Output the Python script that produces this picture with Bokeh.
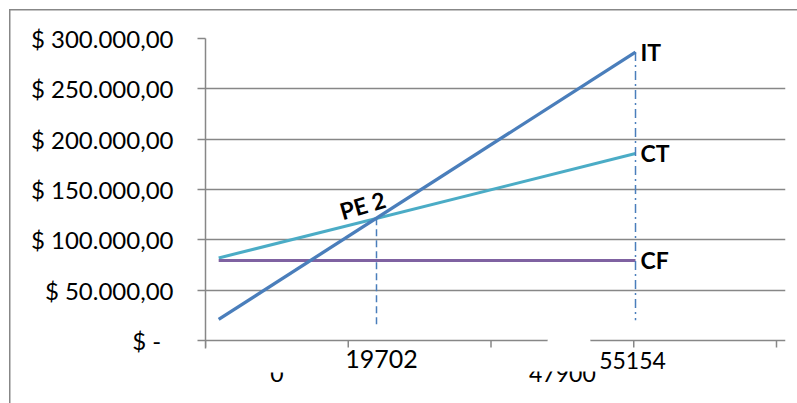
from bokeh.plotting import figure
from bokeh.models import Range1d, FixedTicker, BoxAnnotation, Label
from bokeh.embed import file_html
from bokeh.resources import INLINE
from bokeh.core.properties import value
import numpy as np

# ---------------- data ----------------
quantity = [-1900, 55154]          # x of line start / end (units)
it_values = [21000, 286500]        # ingreso total
ct_values = [82000, 185800]        # costo total
cf_values = [79500, 79500]         # costo fijo
series_names = ["IT", "CT", "CF"]

guide_q = [19702, 55154]           # vertical guide positions
guide_top = [121500, 286500]
guide_bottom = [13000, 20000]
guide_labels = ["19702", "55154"]
pe_label = "PE 2"

y_ticks = [0, 50000, 100000, 150000, 200000, 250000, 300000]
y_tick_labels = ["$ -\u00a0\u00a0", "$ 50.000,00", "$ 100.000,00", "$ 150.000,00",
                 "$ 200.000,00", "$ 250.000,00", "$ 300.000,00"]
x_categories = ["0", "23950", "47900", ""]

# ---------------- styles / layout ----------------
FONT = "Lato"
GRAY = "#878787"
C_IT = "#4a7ebb"
C_CT = "#4bacc6"
C_CF = "#7f62a1"

W, H = 797, 403
LEFT, TOP, RIGHT = 205, 38, 785        # frame edges (px)
AXIS_END = 776                         # right end of the category axis (px)
Y0_PX = 340                            # pixel row of value 0
X0, X1 = -3704, 74453                  # axis extent in units
x_per_px = (X1 - X0) / (AXIS_END - LEFT)
y_per_px = 300000 / (Y0_PX - TOP)
XR = X1 + (RIGHT - AXIS_END) * x_per_px
YB = -(H - Y0_PX) * y_per_px

p = figure(width=W, height=H, output_backend="svg", toolbar_location=None,
           x_range=Range1d(X0, XR), y_range=Range1d(YB, 300000),
           x_axis_location=None,
           min_border_left=LEFT, min_border_right=W - RIGHT, min_border_top=TOP,
           min_border_bottom=0)
p.outline_line_color = None
p.background_fill_color = "white"
p.border_fill_color = None
p.styles = {
    "background": (f"linear-gradient({GRAY},{GRAY}) 9px 9px / 1.5px 100% no-repeat, "
                   f"linear-gradient({GRAY},{GRAY}) 9px 9px / 100% 1.5px no-repeat, white")
}

# y axis
p.yaxis.ticker = FixedTicker(ticks=y_ticks)
p.yaxis.major_label_overrides = dict(zip(y_ticks, y_tick_labels))
p.yaxis.major_label_text_font = FONT
p.yaxis.major_label_text_font_size = "24px"
p.yaxis.major_label_text_color = "black"
p.yaxis.major_tick_out = 8
p.yaxis.major_tick_in = 0
p.yaxis.major_label_standoff = 24
p.yaxis.axis_line_color = GRAY
p.yaxis.axis_line_width = 1.5
p.yaxis.major_tick_line_color = GRAY
p.yaxis.major_tick_line_width = 1.5
p.yaxis.bounds = (-8 * y_per_px, 300000)
p.ygrid.ticker = FixedTicker(ticks=y_ticks)
p.ygrid.grid_line_color = GRAY
p.ygrid.grid_line_width = 1.5
p.ygrid.bounds = (X0, X1)
p.xgrid.visible = False

# category axis ticks and labels (drawn inside the frame)
bounds = np.linspace(X0, X1, len(x_categories) + 1)
centers = (bounds[:-1] + bounds[1:]) / 2
p.segment(x0=bounds, y0=[0] * len(bounds), x1=bounds, y1=[-7 * y_per_px] * len(bounds),
          line_color=GRAY, line_width=1.5)
p.text(x=centers, y=[0] * len(centers), text=x_categories, y_offset=33,
       text_align="center", text_baseline="alphabetic", text_font=value(FONT),
       text_font_size="23px", text_color="black")

# lines
p.line(quantity, ct_values, line_color=C_CT, line_width=3)
p.line(quantity, cf_values, line_color=C_CF, line_width=3)
p.line(quantity, it_values, line_color=C_IT, line_width=3.3)

# guides
p.segment(x0=[guide_q[0]], y0=[guide_top[0]], x1=[guide_q[0]], y1=[guide_bottom[0]],
          line_color=C_IT, line_width=1.5, line_dash="7 4")
p.segment(x0=[guide_q[1]], y0=[guide_top[1]], x1=[guide_q[1]], y1=[guide_bottom[1]],
          line_color=C_IT, line_width=1.5, line_dash="9 4 2 4")

# series labels
p.text(x=[quantity[-1]] * 3, y=[it_values[-1], ct_values[-1], cf_values[-1]],
       text=series_names, x_offset=5, text_align="left", text_baseline="middle",
       text_font=value(FONT), text_font_style="bold", text_font_size="23px",
       text_color="black")
p.text(x=[guide_q[0]], y=[guide_top[0]], text=[pe_label], angle=0.28,
       x_offset=-14, y_offset=-13, text_align="center", text_baseline="middle",
       text_font=value(FONT), text_font_style="bold", text_font_size="23px",
       text_color="black")

# white text-box backgrounds of the original (they hide parts of the category labels)
def cover(l, r, t, b, radius=0):
    p.add_layout(BoxAnnotation(left=l, right=r, top=t, bottom=b,
                               left_units="canvas", right_units="canvas",
                               top_units="canvas", bottom_units="canvas",
                               fill_color="white", fill_alpha=1.0, line_color=None,
                               border_radius=radius))

cover(262, 456, 348.5, 372)
cover(380, 458, 348.5, 383)
cover(520, 672, 348.5, 371)
cover(547, 590, 337.5, 344, 6)

p.add_layout(Label(x=guide_q[0], y=358, y_units="canvas", x_offset=5, text=guide_labels[0],
                   text_align="center", text_baseline="alphabetic",
                   text_font=FONT, text_font_size="25px", text_color="black"))
p.add_layout(Label(x=guide_q[1], y=360, y_units="canvas", x_offset=-3, text=guide_labels[1],
                   text_align="center", text_baseline="alphabetic",
                   text_font=FONT, text_font_size="23px", text_color="black"))

open("out.html", "w").write(file_html(p, INLINE))
